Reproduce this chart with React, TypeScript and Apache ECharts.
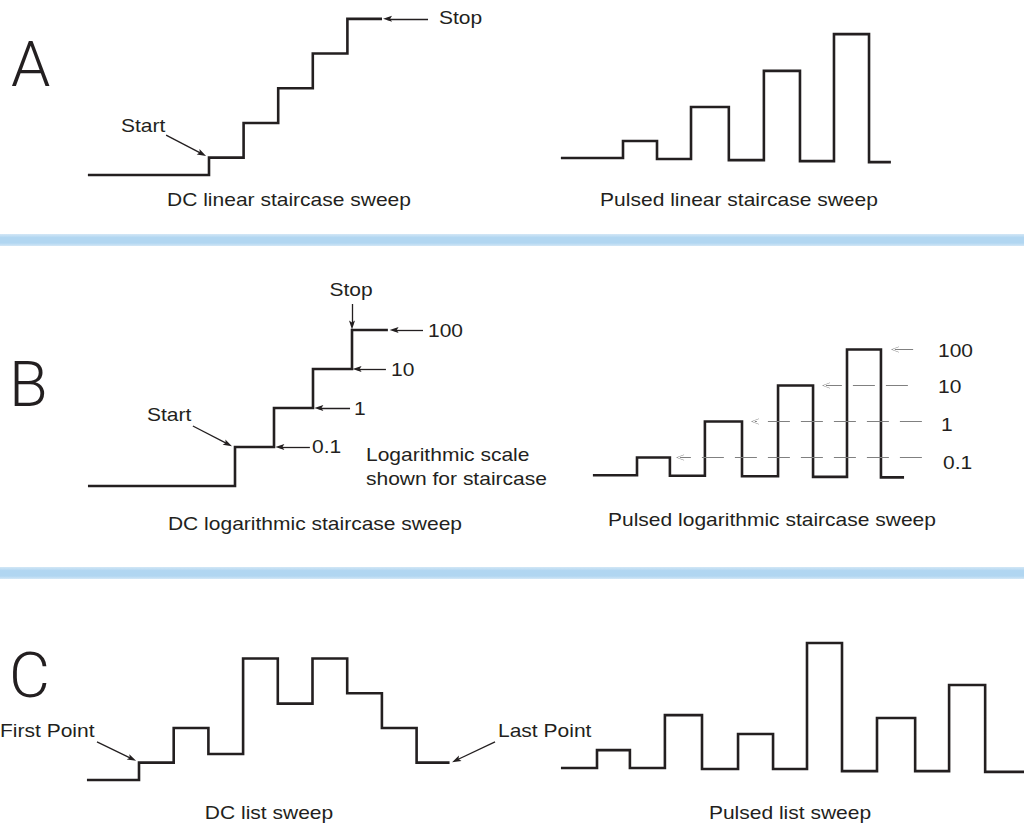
import React, { useEffect, useRef } from "react";
import * as echarts from "echarts";

const INK = "#231f20";
const GUIDE = "#808080";
const FONT = '"Liberation Sans", Arial, Helvetica, sans-serif';
const BIG_FONT = 'Roboto, "Liberation Sans", Arial, sans-serif';

// ---------------- Panel A: DC linear staircase (x in steps, y in levels) ----------------
const dcLinearX = [-3.5, 0, 1, 2, 3, 4, 5];
const dcLinearY = [0, 0.5, 1.5, 2.5, 3.5, 4.5, 4.5];
const dcLinearStopArrow = [[6.33, 4.5], [5.16, 4.5]];
const dcLinearStartArrow = [[-1.24, 1.15], [-0.2, 0.61]];

// ---------------- Panel A: pulsed linear staircase ----------------
const pulsedLinearX = [-1.79, 0, 0.98, 1.96, 3.05, 4.06, 5.1, 6.08, 7.09, 7.72];
const pulsedLinearY = [0, 0.49, -0.03, 1.47, -0.06, 2.51, -0.09, 3.57, -0.12, -0.12];

// ---------------- Panel B: DC logarithmic staircase (log y) ----------------
const dcLogX = [-3.77, 0, 1, 2, 3, 3.92];
const dcLogY = [0.01, 0.1, 1, 10, 100, 100];
const logLevels = [100, 10, 1, 0.1];
const logLevelLabels = ["100", "10", "1", "0.1"];
const dcLogArrowFrom = [4.82, 3.87, 2.95, 1.92];
const dcLogArrowTo = [4.08, 3.13, 2.15, 1.15];
const dcLogStopArrow = [[3, 464], [3, 134]];
const dcLogStartArrow = [[-1.08, 0.345], [-0.18, 0.118]];

// ---------------- Panel B: pulsed logarithmic staircase ----------------
const pulsedLogX = [-1.26, 0, 0.94, 1.94, 3.0, 4.03, 5.03, 6.0, 6.97, 7.63];
const pulsedLogY = [0.032, 0.1, 0.031, 1, 0.03, 10, 0.029, 100, 0.028, 0.028];
const pulsedLogGuideFrom = [7.89, 7.74, 8.14, 8.14];
const pulsedLogGuideTo = [7.37, 5.4, 3.37, 1.23];

// ---------------- Panel C: DC list sweep ----------------
const dcListX = [-1.5, 0, 1, 2, 3, 4, 5, 6, 7, 8, 8.95];
const dcListY = [0, 0.5, 1.5, 0.75, 3.5, 2.2, 3.5, 2.5, 1.5, 0.5, 0.5];
const dcListFirstArrow = [[-1.21, 1.1], [-0.2, 0.61]];
const dcListLastArrow = [[10.26, 1.1], [9.14, 0.57]];

// ---------------- Panel C: pulsed list sweep ----------------
const pulsedListX = [-1.03, 0, 0.94, 1.94, 3.0, 4.03, 5.03, 6.0, 7.0, 8.0, 9.09, 10.06, 11.09, 12.2];
const pulsedListY = [0, 0.51, 0, 1.51, -0.03, 0.97, -0.03, 3.57, -0.09, 1.43, -0.09, 2.37, -0.11, -0.11];

// ---------------- Texts ----------------
const panelLetters = ["A", "B", "C"];
const captions = [
  "DC linear staircase sweep",
  "Pulsed linear staircase sweep",
  "DC logarithmic staircase sweep",
  "Pulsed logarithmic staircase sweep",
  "DC list sweep",
  "Pulsed list sweep",
];

// ---------------- Layout (pixel mapping of each small panel) ----------------
type YMap =
  | { kind: "lin"; y0: number; yu: number }
  | { kind: "log"; ref: number; refPx: number; decade: number };
type Panel = { box: number[]; x0: number; xu: number; y: YMap };

const panels: Panel[] = [
  { box: [60, 5, 450, 190], x0: 209, xu: 34.6, y: { kind: "lin", y0: 175, yu: 34.7 } },
  { box: [540, 20, 910, 175], x0: 623, xu: 34.7, y: { kind: "lin", y0: 158, yu: 34.7 } },
  { box: [60, 280, 440, 495], x0: 235, xu: 39, y: { kind: "log", ref: 0.01, refPx: 486, decade: 39 } },
  { box: [570, 330, 935, 490], x0: 637, xu: 35, y: { kind: "log", ref: 0.1, refPx: 457.5, decade: 36 } },
  { box: [60, 640, 510, 790], x0: 139, xu: 34.7, y: { kind: "lin", y0: 780, yu: 34.7 } },
  { box: [540, 630, 1024, 790], x0: 597, xu: 35, y: { kind: "lin", y0: 768, yu: 35 } },
];

const ARROW_HEAD = "path://M5,0 L10,12 L5,9.5 L0,12 Z";
const CHEVRON = "path://M0,10 L5,0 L10,10 L9,10 L5,1.6 L1,10 Z";
const FS = 18.6;
const SX = 1.13;

function zip(xs: number[], ys: number[]) {
  return xs.map((x, k) => [x, ys[k]]);
}

function arrowMarks(pairs: number[][][], color: string, width: number, type: any, symbol: string, size: number[]) {
  return {
    silent: true,
    animation: false,
    symbol: ["none", symbol],
    symbolSize: size,
    label: { show: false },
    emphasis: { disabled: true },
    lineStyle: { color, width, type },
    itemStyle: { color },
    data: pairs.map((p) => [{ coord: p[0] }, { coord: p[1] }]),
  };
}

function stepLine(i: number, xs: number[], ys: number[], markLine?: any) {
  return {
    type: "line",
    xAxisIndex: i,
    yAxisIndex: i,
    step: "end",
    symbol: "none",
    showSymbol: false,
    clip: false,
    silent: true,
    animation: false,
    data: zip(xs, ys),
    lineStyle: { color: INK, width: 2.6, join: "miter", cap: "butt" },
    emphasis: { disabled: true },
    markLine,
  };
}

function txt(text: string, x: number, y: number, align = "left", size = FS, sx = SX) {
  return {
    type: "text",
    x,
    y,
    scaleX: sx,
    silent: true,
    style: {
      text,
      fill: INK,
      fontSize: size,
      fontFamily: FONT,
      textAlign: align,
      textVerticalAlign: "middle",
      align,
      verticalAlign: "middle",
    },
  };
}

function bigLetter(text: string, x: number, y: number) {
  return {
    type: "text",
    x,
    y,
    silent: true,
    style: {
      text,
      fill: INK,
      fontSize: 63,
      fontFamily: BIG_FONT,
      fontWeight: 300,
      textAlign: "left",
      textVerticalAlign: "middle",
      align: "left",
      verticalAlign: "middle",
    },
  };
}

function band(y: number) {
  return {
    type: "rect",
    silent: true,
    shape: { x: 0, y, width: 1024, height: 12 },
    style: {
      fill: new echarts.graphic.LinearGradient(0, 0, 0, 1, [
        { offset: 0, color: "#d3e7f6" },
        { offset: 0.3, color: "#b1d6f1" },
        { offset: 0.75, color: "#b1d6f1" },
        { offset: 1, color: "#d3e7f6" },
      ]),
    },
  };
}

function buildOption() {
  const grid = panels.map((p) => ({
    left: p.box[0],
    top: p.box[1],
    width: p.box[2] - p.box[0],
    height: p.box[3] - p.box[1],
    containLabel: false,
  }));
  const xAxis = panels.map((p, i) => ({
    type: "value",
    gridIndex: i,
    show: false,
    min: (p.box[0] - p.x0) / p.xu,
    max: (p.box[2] - p.x0) / p.xu,
  }));
  const yAxis = panels.map((p, i) => {
    const m = p.y;
    if (m.kind === "lin") {
      return {
        type: "value",
        gridIndex: i,
        show: false,
        min: (m.y0 - p.box[3]) / m.yu,
        max: (m.y0 - p.box[1]) / m.yu,
      };
    }
    return {
      type: "log",
      logBase: 10,
      gridIndex: i,
      show: false,
      min: m.ref * Math.pow(10, (m.refPx - p.box[3]) / m.decade),
      max: m.ref * Math.pow(10, (m.refPx - p.box[1]) / m.decade),
    };
  });

  const dcLogPairs = logLevels.map((lv, k) => [
    [dcLogArrowFrom[k], lv],
    [dcLogArrowTo[k], lv],
  ]);
  const pulsedLogPairs = logLevels.map((lv, k) => [
    [pulsedLogGuideFrom[k], lv],
    [pulsedLogGuideTo[k], lv],
  ]);

  const series = [
    stepLine(0, dcLinearX, dcLinearY, arrowMarks([dcLinearStopArrow, dcLinearStartArrow], INK, 1.3, "solid", ARROW_HEAD, [6, 9])),
    stepLine(1, pulsedLinearX, pulsedLinearY),
    stepLine(2, dcLogX, dcLogY, arrowMarks([...dcLogPairs, dcLogStopArrow, dcLogStartArrow], INK, 1.3, "solid", ARROW_HEAD, [6, 9])),
    stepLine(3, pulsedLogX, pulsedLogY, arrowMarks(pulsedLogPairs, GUIDE, 1, [22, 11], CHEVRON, [6, 8])),
    stepLine(4, dcListX, dcListY, arrowMarks([dcListFirstArrow, dcListLastArrow], INK, 1.3, "solid", ARROW_HEAD, [6, 9])),
    stepLine(5, pulsedListX, pulsedListY),
  ];

  const elements: any[] = [
    band(234),
    band(567),
    bigLetter(panelLetters[0], 11, 64.5),
    bigLetter(panelLetters[1], 9, 384.5),
    bigLetter(panelLetters[2], 9, 675.5),
    // Panel A
    txt("Start", 121, 125),
    txt("Stop", 439, 17.5),
    txt(captions[0], 289, 199, "center"),
    txt(captions[1], 739, 199, "center"),
    // Panel B DC
    txt("Stop", 351, 289, "center"),
    txt(logLevelLabels[0], 428, 330.5),
    txt(logLevelLabels[1], 391, 369.7),
    txt(logLevelLabels[2], 354, 408.7),
    txt(logLevelLabels[3], 312, 446.5),
    txt("Start", 147, 414.7),
    txt("Logarithmic scale", 366, 454.5),
    txt("shown for staircase", 366, 478.7),
    txt(captions[2], 315, 523, "center"),
    // Panel B pulsed
    txt(logLevelLabels[0], 938, 350.5),
    txt(logLevelLabels[1], 938, 386),
    txt(logLevelLabels[2], 941, 424.5),
    txt(logLevelLabels[3], 943, 462),
    txt(captions[3], 772, 519, "center"),
    // Panel C
    txt("First Point", 0, 730),
    txt("Last Point", 498, 730),
    txt(captions[4], 269, 812.5, "center"),
    txt(captions[5], 790, 812.5, "center"),
  ];

  return {
    animation: false,
    backgroundColor: "#ffffff",
    grid,
    xAxis,
    yAxis,
    series,
    graphic: { elements },
  };
}

export default function App() {
  const ref = useRef<HTMLDivElement>(null);
  useEffect(() => {
    if (!ref.current) return;
    const chart = echarts.init(ref.current, null, { renderer: "svg" });
    chart.setOption(buildOption() as any);
    return () => chart.dispose();
  }, []);
  return (
    <div
      ref={ref}
      style={{ position: "absolute", left: 0, top: 0, width: 1024, height: 825, background: "#ffffff" }}
    />
  );
}
